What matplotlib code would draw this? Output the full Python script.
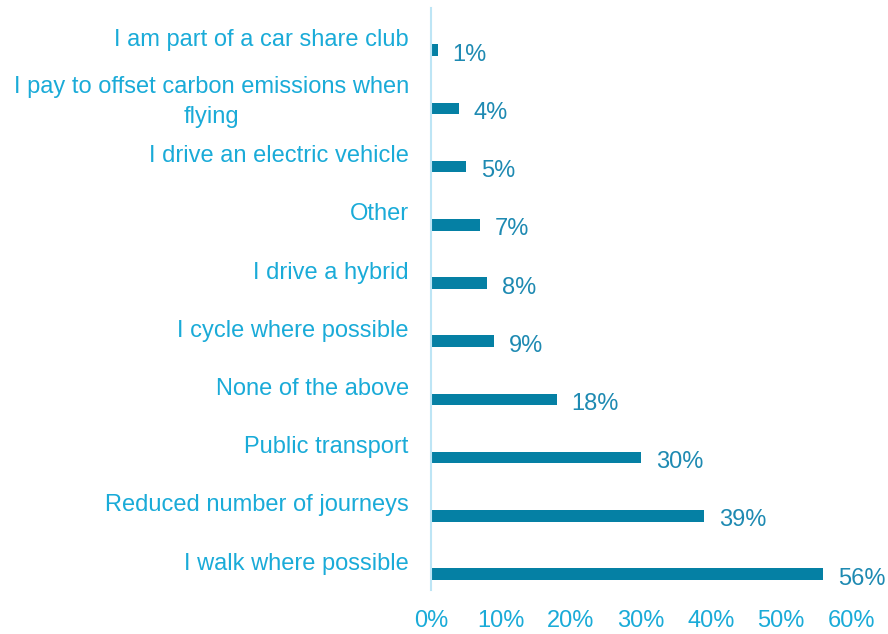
import matplotlib.pyplot as plt

categories = [
    "I am part of a car share club",
    "I pay to offset carbon emissions when\nflying",
    "I drive an electric vehicle",
    "Other",
    "I drive a hybrid",
    "I cycle where possible",
    "None of the above",
    "Public transport",
    "Reduced number of journeys",
    "I walk where possible",
]
values = [1, 4, 5, 7, 8, 9, 18, 30, 39, 56]
x_ticks = [0, 10, 20, 30, 40, 50, 60]

plt.rcParams['font.family'] = ['Liberation Sans', 'DejaVu Sans']

bar_color = '#0580A4'
label_color = '#1AABD8'
value_color = '#1E8AB2'

fig = plt.figure(figsize=(8.88, 6.34), dpi=100)
ax = fig.add_axes([0.4854, 0.069, 0.4730, 0.918])

pos = list(range(len(categories)))
bar_pos = [p + 0.22 for p in pos]
ax.barh(bar_pos, values, height=0.2, color=bar_color)

# etiketten met percentages naast de balken
for y, v in zip(bar_pos, values):
    ax.text(v + 2.1, y + 0.08, f"{v}%", color=value_color, fontsize=17,
            va='center', ha='left')

ax.set_ylim(len(categories) - 0.5, -0.5)
ax.set_xlim(0, 60)
ax.set_yticks(pos)
ax.set_yticklabels(categories, fontsize=17, color=label_color,
                   multialignment='center', linespacing=1.45)
ax.set_xticks(x_ticks)
ax.set_xticklabels([f"{t}%" for t in x_ticks], fontsize=17, color=label_color)
ax.tick_params(axis='both', length=0)
ax.tick_params(axis='x', pad=14)
ax.tick_params(axis='y', pad=16)

for side in ['top', 'right', 'bottom']:
    ax.spines[side].set_visible(False)
ax.spines['left'].set_color('#BDE5F5')
ax.spines['left'].set_linewidth(1.5)

fig.savefig("out.png", dpi=100)
